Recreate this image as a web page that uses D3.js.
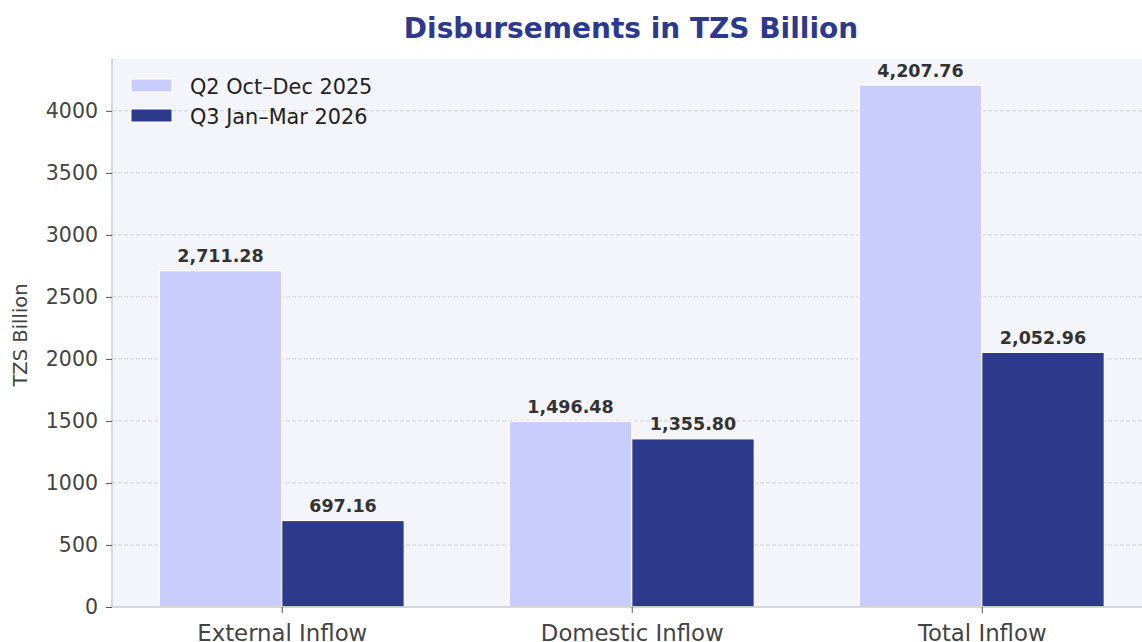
<!DOCTYPE html>
<html><head><meta charset="utf-8">
<script src="https://cdn.jsdelivr.net/npm/d3@7"></script>
<style>body{margin:0;background:#fff;} text{font-family:"DejaVu Sans",sans-serif;}</style>
</head><body>
<svg id="c" width="1142" height="642"></svg>
<script>
const categories = ["External Inflow", "Domestic Inflow", "Total Inflow"];
const seriesNames = ["Q2 Oct\u2013Dec 2025", "Q3 Jan\u2013Mar 2026"];
const q2Values = [2711.28, 1496.48, 4207.76];
const q3Values = [697.16, 1355.80, 2052.96];
const yTicks = [0, 500, 1000, 1500, 2000, 2500, 3000, 3500, 4000];
const colors = ["#c8cdfd", "#2d3a8c"];

const svg = d3.select("#c");
const pL = 112, pT = 59, pB = 607;
const x = d3.scaleLinear().domain([-0.485, 2.485]).range([pL, pL + 2.97 * 350]);
const y = d3.scaleLinear().domain([0, 4418.15]).range([pB, pT]);
const pR = x(2.485);
const bw = 0.35;

svg.append("rect").attr("x", pL).attr("y", pT).attr("width", pR - pL).attr("height", pB - pT).attr("fill", "#f4f5fa");

svg.append("g").selectAll("line").data(yTicks.filter(d => d > 0)).join("line")
  .attr("x1", pL).attr("x2", pR).attr("y1", d => y(d)).attr("y2", d => y(d))
  .attr("stroke", "#c8c8c8").attr("stroke-width", 0.8).attr("stroke-dasharray", "4,2");

const series = [q2Values, q3Values];
series.forEach((vals, si) => {
  const off = si === 0 ? -bw / 2 : bw / 2;
  svg.append("g").selectAll("rect").data(vals).join("rect")
    .attr("x", (d, i) => x(i + off - bw / 2))
    .attr("width", (d, i) => x(i + off + bw / 2) - x(i + off - bw / 2))
    .attr("y", d => y(d)).attr("height", d => pB - y(d))
    .attr("fill", colors[si]).attr("stroke", "#fff").attr("stroke-width", 1.2);
  svg.append("g").selectAll("text").data(vals).join("text")
    .attr("x", (d, i) => x(i + off)).attr("y", d => y(d) - 8.5)
    .attr("text-anchor", "middle").attr("font-size", 17.5).attr("font-weight", "bold").attr("fill", "#333")
    .text(d => d3.format(",.2f")(d));
});

svg.append("line").attr("x1", pL).attr("x2", pL).attr("y1", pT).attr("y2", pB).attr("stroke", "#cccccc").attr("stroke-width", 1.5);
svg.append("line").attr("x1", pL).attr("x2", pR).attr("y1", pB).attr("y2", pB).attr("stroke", "#cccccc").attr("stroke-width", 1.5);

const ya = svg.append("g").attr("transform", `translate(${pL},0)`)
  .call(d3.axisLeft(y).tickValues(yTicks).tickSize(6).tickPadding(8).tickFormat(d3.format("d")));
ya.select(".domain").remove();
ya.selectAll("line").attr("stroke", "#555");
ya.selectAll("text").attr("font-size", 20.5).attr("fill", "#444").attr("font-family", "DejaVu Sans");

const xa = svg.append("g").attr("transform", `translate(0,${pB})`)
  .call(d3.axisBottom(x).tickValues([0, 1, 2]).tickSize(6).tickPadding(12).tickFormat(i => categories[i]));
xa.select(".domain").remove();
xa.selectAll("line").attr("stroke", "#555");
xa.selectAll("text").attr("font-size", 22.8).attr("fill", "#444").attr("font-family", "DejaVu Sans");

svg.append("text").attr("x", 631).attr("y", 38).attr("text-anchor", "middle")
  .attr("font-size", 28).attr("font-weight", "bold").attr("fill", "#2d3a8c").text("Disbursements in TZS Billion");

svg.append("text").attr("transform", `translate(27,${(pT + pB) / 2 + 2}) rotate(-90)`).attr("text-anchor", "middle")
  .attr("font-size", 19.5).attr("fill", "#444").text("TZS Billion");

seriesNames.forEach((n, i) => {
  const ly = 79 + i * 30;
  svg.append("rect").attr("x", 131).attr("y", ly).attr("width", 41).attr("height", 13)
    .attr("fill", colors[i]).attr("stroke", "#fff").attr("stroke-width", 1);
  svg.append("text").attr("x", 190).attr("y", ly + 14.5).attr("font-size", 20.8).attr("fill", "#222").text(n);
});
</script>
</body></html>
